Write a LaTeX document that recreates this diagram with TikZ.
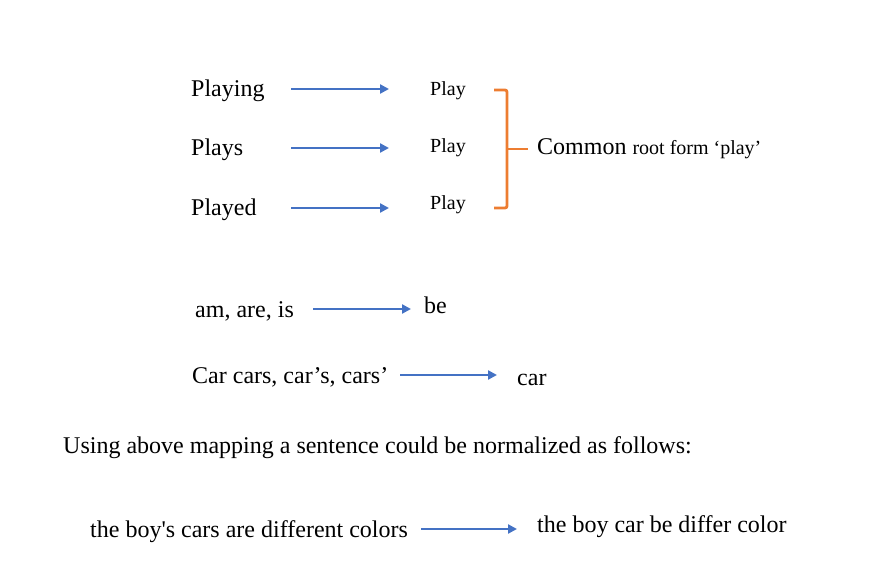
\documentclass[tikz,border=0pt]{standalone}
\usepackage{fontspec}
\setmainfont{Liberation Serif}
\usetikzlibrary{arrows.meta, positioning}
\definecolor{arrowblue}{RGB}{68,114,196}
\definecolor{braceorange}{RGB}{237,125,49}

\begin{document}
\begin{tikzpicture}[x=1pt, y=-1pt,
    word/.style={anchor=west, inner sep=0pt, text height=17pt, text depth=1pt,
                 font=\fontsize{24}{28}\selectfont},
    root/.style={anchor=west, inner sep=0pt, text height=15pt, text depth=1pt,
                 font=\fontsize{20}{24}\selectfont},
    maparrow/.style={draw=arrowblue, line width=2.8pt,
                     -{Triangle[length=9pt, width=9pt]}}]
  \useasboundingbox (0,0) rectangle (873,588);

  % inflected forms of play
  \node[word] (playing) at (191,89) {Playing};
  \node[word] (plays)   at (191,148) {Plays};
  \node[word] (played)  at (191,208) {Played};
  \node[root] (play1) at (430,89) {Play};
  \node[root] (play2) at (430,146) {Play};
  \node[root] (play3) at (430,203) {Play};
  \draw[maparrow] ([xshift=100pt]playing.west) -- ([xshift=-41pt]play1.west |- playing.west);
  \draw[maparrow] ([xshift=100pt]plays.west)   -- ([xshift=-41pt]play2.west |- plays.west);
  \draw[maparrow] ([xshift=100pt]played.west)  -- ([xshift=-41pt]play3.west |- played.west);

  % brace
  \draw[braceorange, line width=2.8pt, rounded corners=2pt]
    (494,90) -- (507,90) -- (507,208) -- (494,208);
  \draw[braceorange, line width=2.8pt] (507,149) -- (528,149);
  \node[anchor=west, inner sep=0pt] (common) at (537,149)
    {\fontsize{24}{28}\selectfont Common \fontsize{20}{24}\selectfont root form ‘play’};

  % other mappings
  \node[word] (amareis) at (195,309) {am, are, is};
  \node[word] (be) at (424,305) {be};
  \draw[maparrow] ([xshift=118pt]amareis.west) -- ([xshift=-13pt]be.west |- amareis.west);
  \node[word] (carforms) at (192,375) {Car cars, car’s, cars’};
  \node[word] (car) at (517,377) {car};
  \draw[maparrow] ([xshift=208pt]carforms.west) -- ([xshift=-20pt]car.west |- carforms.west);

  \node[word] (usingtext) at (63,445)
    {Using above mapping a sentence could be normalized as follows:};

  % example sentence
  \node[word] (sentence) at (90,529)
    {the boy\textquotesingle s cars are different colors};
  \node[word] (normal) at (537,524)
    {the boy car be differ color};
  \draw[maparrow] ([xshift=331pt]sentence.west) -- ([xshift=-20pt]normal.west |- sentence.west);
\end{tikzpicture}
\end{document}
